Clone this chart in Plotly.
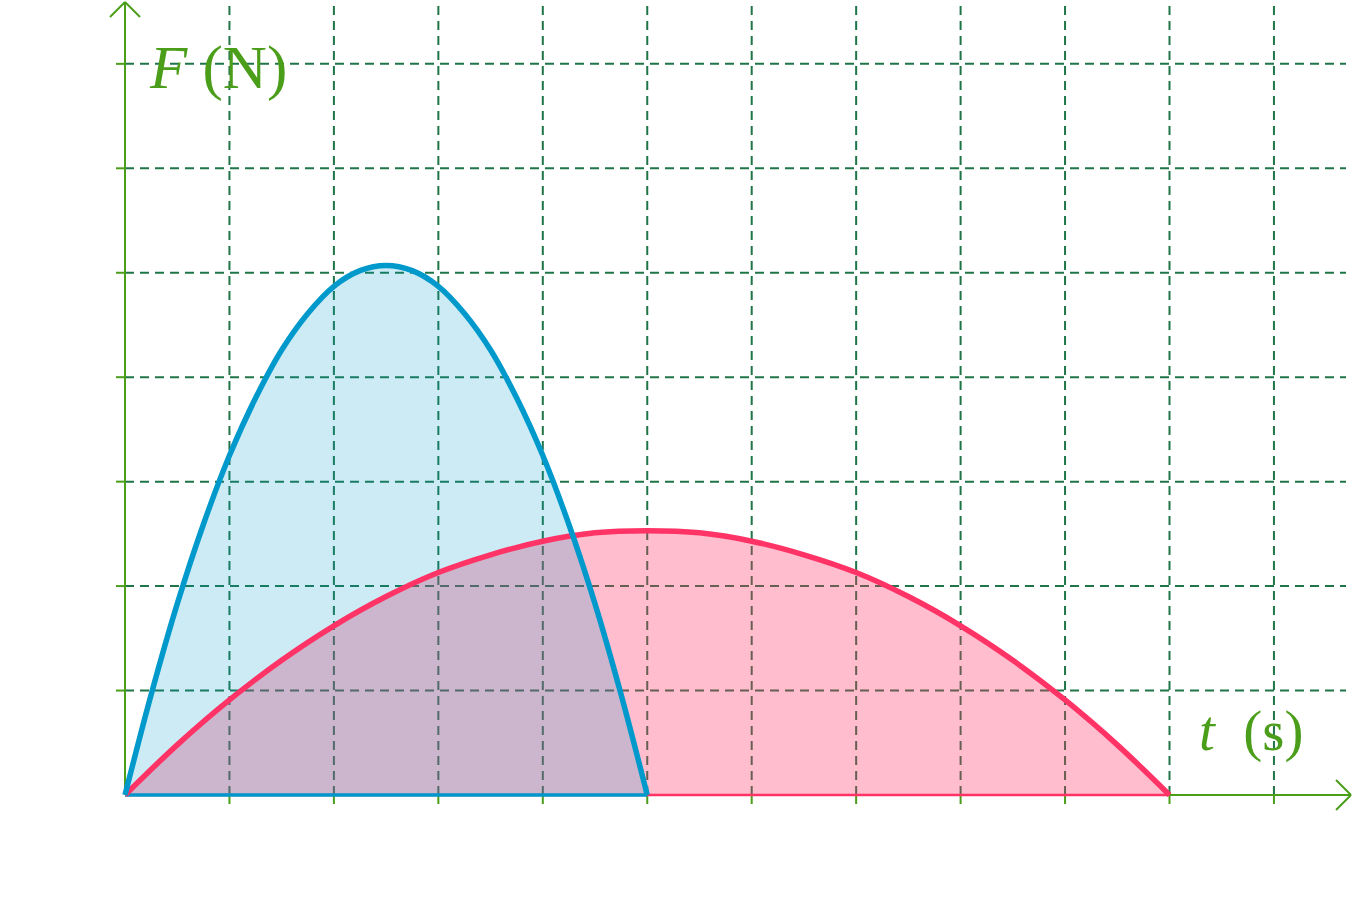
import plotly.graph_objects as go

# ---- data ----
blue_t = [0, 0.25, 0.5, 0.75, 1, 1.25, 1.5, 1.75, 2, 2.25, 2.5,
          2.75, 3, 3.25, 3.5, 3.75, 4, 4.25, 4.5, 4.75, 5]
blue_F = [0, 0.96, 1.83, 2.59, 3.25, 3.80, 4.26, 4.61, 4.87, 5.02, 5.07,
          5.02, 4.87, 4.61, 4.26, 3.80, 3.25, 2.59, 1.83, 0.96, 0]

pink_t = [0, 0.5, 1, 1.5, 2, 2.5, 3, 3.5, 4, 4.5, 5,
          5.5, 6, 6.5, 7, 7.5, 8, 8.5, 9, 9.5, 10]
pink_F = [0, 0.48, 0.91, 1.29, 1.62, 1.90, 2.13, 2.30, 2.43, 2.51, 2.53,
          2.51, 2.43, 2.30, 2.13, 1.90, 1.62, 1.29, 0.91, 0.48, 0]

grid_x = [1, 2, 3, 4, 5, 6, 7, 8, 9, 10, 11]
grid_y = [1, 2, 3, 4, 5, 6, 7]

x_label = "<i>t</i>  (s)"
y_label = "<i>F</i> (N)"

# ---- styling ----
W, H = 1353, 900
U = 104.45            # pixels per unit
X0, Y0 = 125, 795     # origin in pixels
GREEN = "#4a9e1a"
GRID = "#1f7548"
BLUE = "#0099cc"
PINK = "#ff3366"

def px2x(p):
    return (p - X0) / U

def px2y(p):
    return (Y0 - p) / U

xr = [px2x(0), px2x(W)]
yr = [px2y(H), px2y(0)]

fig = go.Figure()

# fills (translucent, over the grid)
fig.add_trace(go.Scatter(x=pink_t, y=pink_F, fill="toself",
                         fillcolor="rgba(255,51,102,0.32)", mode="lines",
                         line=dict(width=0, shape="spline"), hoverinfo="skip"))
fig.add_trace(go.Scatter(x=blue_t, y=blue_F, fill="toself",
                         fillcolor="rgba(0,153,204,0.2)", mode="lines",
                         line=dict(width=0, shape="spline"), hoverinfo="skip"))

# baselines
fig.add_trace(go.Scatter(x=[pink_t[0], pink_t[-1]], y=[0, 0], mode="lines",
                         line=dict(color=PINK, width=2.5), hoverinfo="skip"))
fig.add_trace(go.Scatter(x=[blue_t[0], blue_t[-1]], y=[0, 0], mode="lines",
                         line=dict(color=BLUE, width=3.5), hoverinfo="skip"))

# curves
fig.add_trace(go.Scatter(x=pink_t, y=pink_F, mode="lines",
                         line=dict(color=PINK, width=5.5, shape="spline"),
                         hoverinfo="skip"))
fig.add_trace(go.Scatter(x=blue_t, y=blue_F, mode="lines",
                         line=dict(color=BLUE, width=5.5, shape="spline"),
                         hoverinfo="skip"))

shapes = []
# grid (below traces)
for gx in grid_x:
    shapes.append(dict(type="line", xref="x", yref="y", layer="below",
                       x0=gx, x1=gx, y0=px2y(795), y1=yr[1],
                       line=dict(color=GRID, width=2, dash="9px,6px")))
    shapes.append(dict(type="line", xref="x", yref="y", layer="below",
                       x0=gx, x1=gx, y0=px2y(795), y1=px2y(804),
                       line=dict(color=GREEN, width=2)))
for gy in grid_y:
    shapes.append(dict(type="line", xref="x", yref="y", layer="below",
                       x0=px2x(125), x1=px2x(1346), y0=gy, y1=gy,
                       line=dict(color=GRID, width=2, dash="9px,6px")))
    shapes.append(dict(type="line", xref="x", yref="y", layer="below",
                       x0=px2x(116), x1=px2x(125), y0=gy, y1=gy,
                       line=dict(color=GREEN, width=2)))

# axes with arrow heads
axis_line = dict(color=GREEN, width=2)
shapes += [
    dict(type="line", xref="x", yref="y", layer="below",
         x0=0, x1=px2x(1351), y0=0, y1=0, line=axis_line),
    dict(type="line", xref="x", yref="y", layer="below",
         x0=px2x(1336), x1=px2x(1351), y0=px2y(780), y1=0, line=axis_line),
    dict(type="line", xref="x", yref="y", layer="below",
         x0=px2x(1336), x1=px2x(1351), y0=px2y(810), y1=0, line=axis_line),
    dict(type="line", xref="x", yref="y", layer="below",
         x0=0, x1=0, y0=0, y1=px2y(2), line=axis_line),
    dict(type="line", xref="x", yref="y", layer="below",
         x0=px2x(110), x1=0, y0=px2y(17), y1=px2y(2), line=axis_line),
    dict(type="line", xref="x", yref="y", layer="below",
         x0=px2x(140), x1=0, y0=px2y(17), y1=px2y(2), line=axis_line),
]

annotations = [
    dict(x=px2x(147), y=px2y(68), xref="x", yref="y", text=y_label,
         showarrow=False, xanchor="left", yanchor="middle",
         font=dict(family="Liberation Serif", size=61, color=GREEN)),
    dict(x=px2x(1197), y=px2y(731), xref="x", yref="y", text=x_label,
         showarrow=False, xanchor="left", yanchor="middle",
         font=dict(family="Liberation Serif", size=57, color=GREEN)),
]

fig.update_layout(
    width=W, height=H,
    margin=dict(l=0, r=0, t=0, b=0),
    paper_bgcolor="white", plot_bgcolor="white",
    showlegend=False,
    xaxis=dict(range=xr, visible=False, fixedrange=True),
    yaxis=dict(range=yr, visible=False, fixedrange=True),
    shapes=shapes,
    annotations=annotations,
)

fig.write_html("out.html", config={"displayModeBar": False},
               post_script="document.body.style.margin='0';")
